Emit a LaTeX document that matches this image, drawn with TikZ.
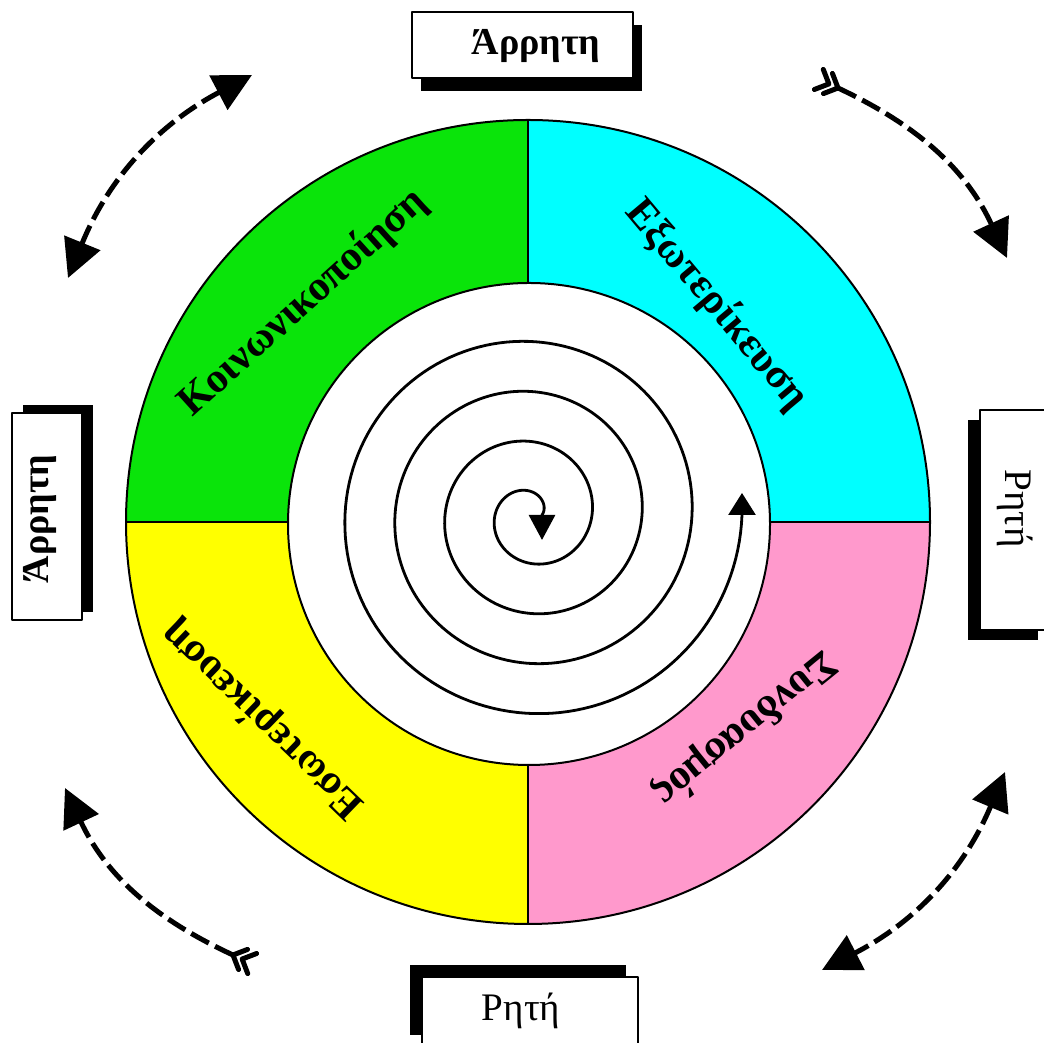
\documentclass[tikz,border=0pt]{standalone}
\usepackage{fontspec}
\setmainfont{Liberation Serif}
\usetikzlibrary{arrows.meta}
\definecolor{qgreen}{RGB}{10,228,10}
\definecolor{qcyan}{RGB}{0,255,255}
\definecolor{qyellow}{RGB}{255,255,0}
\definecolor{qpink}{RGB}{255,153,204}
\tikzset{
  ringline/.style={draw=black, line width=2pt},
  ringtext/.style={font=\fontsize{42}{42}\selectfont\bfseries, inner sep=0pt},
  shadowbox/.style={fill=black, draw=none, inner sep=0pt},
  labelbox/.style={fill=white, draw=black, line width=1.5pt, inner sep=0pt},
  boldlabel/.style={font=\fontsize{38}{38}\selectfont\bfseries, inner sep=0pt},
  plainlabel/.style={font=\fontsize{39}{39}\selectfont, inner sep=0pt},
  spiralline/.style={line width=2.8pt},
  dasharc/.style={line width=5pt, dash pattern=on 20pt off 7pt},
  fletchline/.style={line width=5pt, line cap=round, line join=round},
  bigtri/.tip={Triangle[length=38pt,width=38pt]},
}
\begin{document}
\begin{tikzpicture}[x=1pt,y=1pt,line join=round]
\useasboundingbox (0,0) rectangle (1044,1043);
\clip (0,0) rectangle (1044,1043);
\fill[white] (0,0) rectangle (1044,1043);
% ring
\coordinate (C) at (528,521);
\fill[qgreen] (C) -- ++(90:402) arc[start angle=90,end angle=180,radius=402] -- cycle;
\fill[qcyan] (C) -- ++(0:402) arc[start angle=0,end angle=90,radius=402] -- cycle;
\fill[qyellow] (C) -- ++(180:402) arc[start angle=180,end angle=270,radius=402] -- cycle;
\fill[qpink] (C) -- ++(270:402) arc[start angle=270,end angle=360,radius=402] -- cycle;
\draw[ringline] (C) circle[radius=402];
\draw[ringline] (C) -- ++(0,402);
\draw[ringline] (C) -- ++(0,-402);
\draw[ringline] (C) -- ++(402,0);
\draw[ringline] (C) -- ++(-402,0);
\coordinate (Ci) at (529,519);
\filldraw[fill=white, ringline] (Ci) circle[radius=241];
% ring texts
\node[ringtext, rotate=42] (tgreen) at (303,740) {Κοινωνικοποίηση};
\node[ringtext, rotate=-50] (tcyan) at (717,738) {Εξωτερίκευση};
\node[ringtext, rotate=136] (tyellow) at (263,323) {Εσωτερίκευση};
\node[ringtext, rotate=219] (tpink) at (745,315) {Συνδυασμός};
% spiral
\coordinate (spS) at (742,550);
\coordinate (spE) at (542,503);
\draw[spiralline, {Triangle[length=22pt,width=27pt]}-{Triangle[length=25pt,width=26pt]}]
  (spS) -- plot[domain=0:-1440, samples=600, variable=\t]
  ({531+(211-abs(\t)/360*50)*cos(\t)}, {528+(211-abs(\t)/360*50)*sin(\t)}) -- (spE);
% label boxes
\node[shadowbox, minimum width=221pt, minimum height=66pt] (topS) at (531.5,985) {};
\node[labelbox, minimum width=221pt, minimum height=66pt] (topB) at (522.5,998) {};
\node[boldlabel] (topT) at (536,997) {Άρρητη};
\node[shadowbox, minimum width=70pt, minimum height=207pt] (leftS) at (58,534.5) {};
\node[labelbox, minimum width=70pt, minimum height=207pt] (leftB) at (47,526.5) {};
\node[boldlabel, rotate=90] (leftT) at (40,524) {Άρρητη};
\node[shadowbox, minimum width=70pt, minimum height=220pt] (rightS) at (1003,513) {};
\node[labelbox, minimum width=70pt, minimum height=220pt] (rightB) at (1015,523) {};
\node[plainlabel, rotate=-90] (rightT) at (1015,534) {Ρητή};
\node[shadowbox, minimum width=216pt, minimum height=70pt] (botS) at (518,43) {};
\node[labelbox, minimum width=216pt, minimum height=70pt] (botB) at (530,31) {};
\node[plainlabel] (botT) at (521,32) {Ρητή};
% dashed arcs
\coordinate (tlA) at (68,765);
\coordinate (tlB) at (252,968);
\coordinate (trA) at (838,955);
\coordinate (trB) at (1007,785);
\coordinate (brA) at (1005,271);
\coordinate (brB) at (822,73);
\coordinate (blA) at (233,88);
\coordinate (blB) at (65,255);
\draw[dasharc, {bigtri}-{bigtri}] (tlA) to[bend left=20] (tlB);
\draw[dasharc, -{bigtri}] (trA) to[bend left=20] (trB);
\draw[dasharc, {bigtri}-{bigtri}] (brA) to[bend left=20] (brB);
\draw[dasharc, -{bigtri}] (blA) to[bend left=20] (blB);
% fletchings at the tails
\begin{scope}[shift={(trA)}, rotate=156]
  \draw[fletchline] (11,11) -- (0,0) -- (11,-11);
  \draw[fletchline] (21,11) -- (10,0) -- (21,-11);
\end{scope}
\begin{scope}[shift={(blA)}, rotate=-24]
  \draw[fletchline] (11,11) -- (0,0) -- (11,-11);
  \draw[fletchline] (21,11) -- (10,0) -- (21,-11);
\end{scope}
\end{tikzpicture}
\end{document}
